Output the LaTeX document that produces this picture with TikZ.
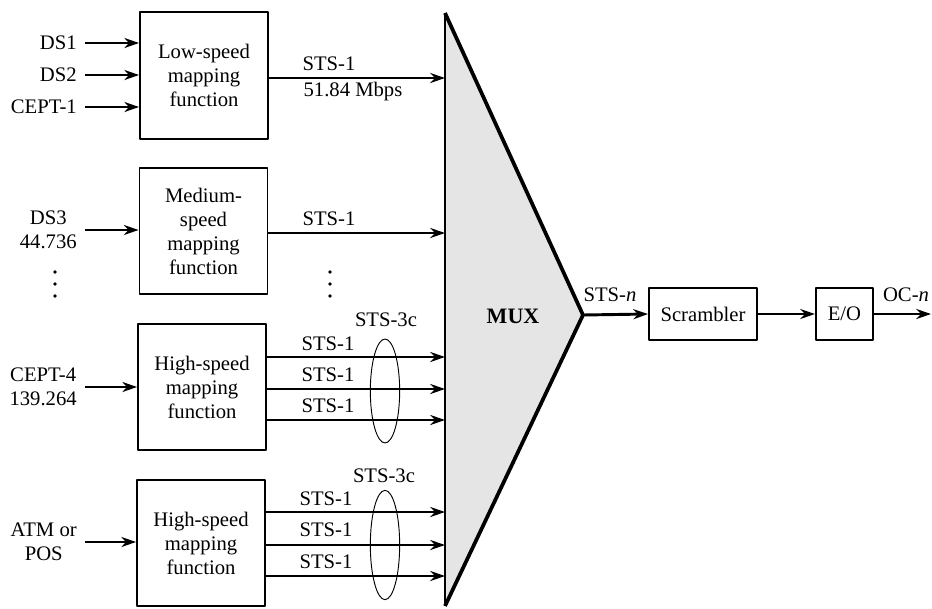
\documentclass[tikz,border=0pt]{standalone}
\usepackage{fontspec}
\setmainfont{Liberation Serif}
\usetikzlibrary{arrows.meta,shapes.geometric}

\begin{document}
\begin{tikzpicture}[x=0.75pt, y=-0.75pt, font=\fontsize{15.5}{18}\selectfont, line join=round, >={Stealth[length=11pt,width=7.5pt]},
	mapbox/.style={draw, line width=1.4pt, minimum width=96pt, minimum height=95pt, align=center, inner sep=0pt},
	smallbox/.style={draw, line width=1.4pt, minimum height=39pt, inner sep=0pt},
	sig/.style={->, line width=2.2pt},
	src/.style={anchor=east, align=center, inner xsep=6pt, inner ysep=0pt},
	grp/.style={draw, ellipse, line width=0.7pt, minimum width=22pt, inner sep=0pt}]
	\useasboundingbox (0,0) rectangle (932,608);
	% mux
	\coordinate (mt) at (445,13);
	\coordinate (mb) at (445,606);
	\coordinate (mx) at (583,315);
	\fill[gray!20] (mt)--(mx)--(mb)--cycle;
	\draw[line width=1.4pt] (mt)--(mb);
	\draw[line width=2.8pt, line join=miter] (mt)--(mx)--(mb);
	\node[font=\fontsize{16.5}{18}\selectfont\bfseries] (mux) at (513,316) {MUX};
	% mapping boxes
	\node[mapbox] (lowmap) at (204,75.5) {Low-speed\\mapping\\function};
	\node[mapbox] (medmap) at (203.5,231) {Medium-\\speed\\mapping\\function};
	\node[mapbox] (himapA) at (202,387) {High-speed\\mapping\\function};
	\node[mapbox] (himapB) at (201,543) {High-speed\\mapping\\function};
	% inputs
	\node[src] (ds1) at (85,43) {DS1};
	\node[src] (ds2) at (85,75) {DS2};
	\node[src] (cept1) at (85,107) {CEPT-1};
	\node[src] (ds3) at (85,230) {DS3\\44.736};
	\node[src] (cept4) at (85,387) {CEPT-4\\139.264};
	\node[src] (atm) at (85,542) {ATM or\\POS};
	\draw[sig] (ds1.east)--(ds1.east -| lowmap.west);
	\draw[sig] (ds2.east)--(ds2.east -| lowmap.west);
	\draw[sig] (cept1.east)--(cept1.east -| lowmap.west);
	\draw[sig] (ds3.east)--(ds3.east -| medmap.west);
	\draw[sig] (cept4.east)--(cept4.east -| himapA.west);
	\draw[sig] (atm.east)--(atm.east -| himapB.west);
	% vertical dots
	\fill (55,272) circle (1.4pt) (55,284) circle (1.4pt) (55,296) circle (1.4pt);
	\fill (330,272) circle (1.4pt) (330,284) circle (1.4pt) (330,296) circle (1.4pt);
	% outputs into mux
	\coordinate (m1) at (445,78);
	\coordinate (m2) at (445,233);
	\coordinate (m3) at (445,357);
	\coordinate (m4) at (445,389);
	\coordinate (m5) at (445,420);
	\coordinate (m6) at (445,512);
	\coordinate (m7) at (445,545);
	\coordinate (m8) at (445,576);
	\draw[sig] (lowmap.east |- m1)--(m1);
	\draw[sig] (medmap.east |- m2)--(m2);
	\draw[sig] (himapA.east |- m3)--(m3);
	\draw[sig] (himapA.east |- m4)--(m4);
	\draw[sig] (himapA.east |- m5)--(m5);
	\draw[sig] (himapB.east |- m6)--(m6);
	\draw[sig] (himapB.east |- m7)--(m7);
	\draw[sig] (himapB.east |- m8)--(m8);
	\node (l1) at (329,64) {STS-1};
	\node (rate) at (353,92) {51.84 Mbps};
	\node (l2) at (329,219) {STS-1};
	\node (l3) at (328,344) {STS-1};
	\node (l4) at (328,375) {STS-1};
	\node (l5) at (328,406) {STS-1};
	\node (l6) at (326,499) {STS-1};
	\node (l7) at (326,530) {STS-1};
	\node (l8) at (326,562) {STS-1};
	\node[grp, minimum height=78pt] (grpA) at (385,391) {};
	\node[grp, minimum height=82pt] (grpB) at (385,545) {};
	\node (c3A) at (386,320) {STS-3c};
	\node (c3B) at (384,476) {STS-3c};
	% line side
	\node[smallbox, minimum width=81pt] (scr) at (703,314) {Scrambler};
	\node[smallbox, minimum width=43pt] (eo) at (844.5,314) {E/O};
	\coordinate (ocend) at (931,314);
	\draw[sig] (mx)--(scr.west);
	\draw[sig] (scr.east)--(eo.west);
	\draw[sig] (eo.east)--(ocend);
	\node (stsn) at (610,295) {STS-\textit{n}};
	\node (ocn) at (906,295) {OC-\textit{n}};
\end{tikzpicture}
\end{document}
